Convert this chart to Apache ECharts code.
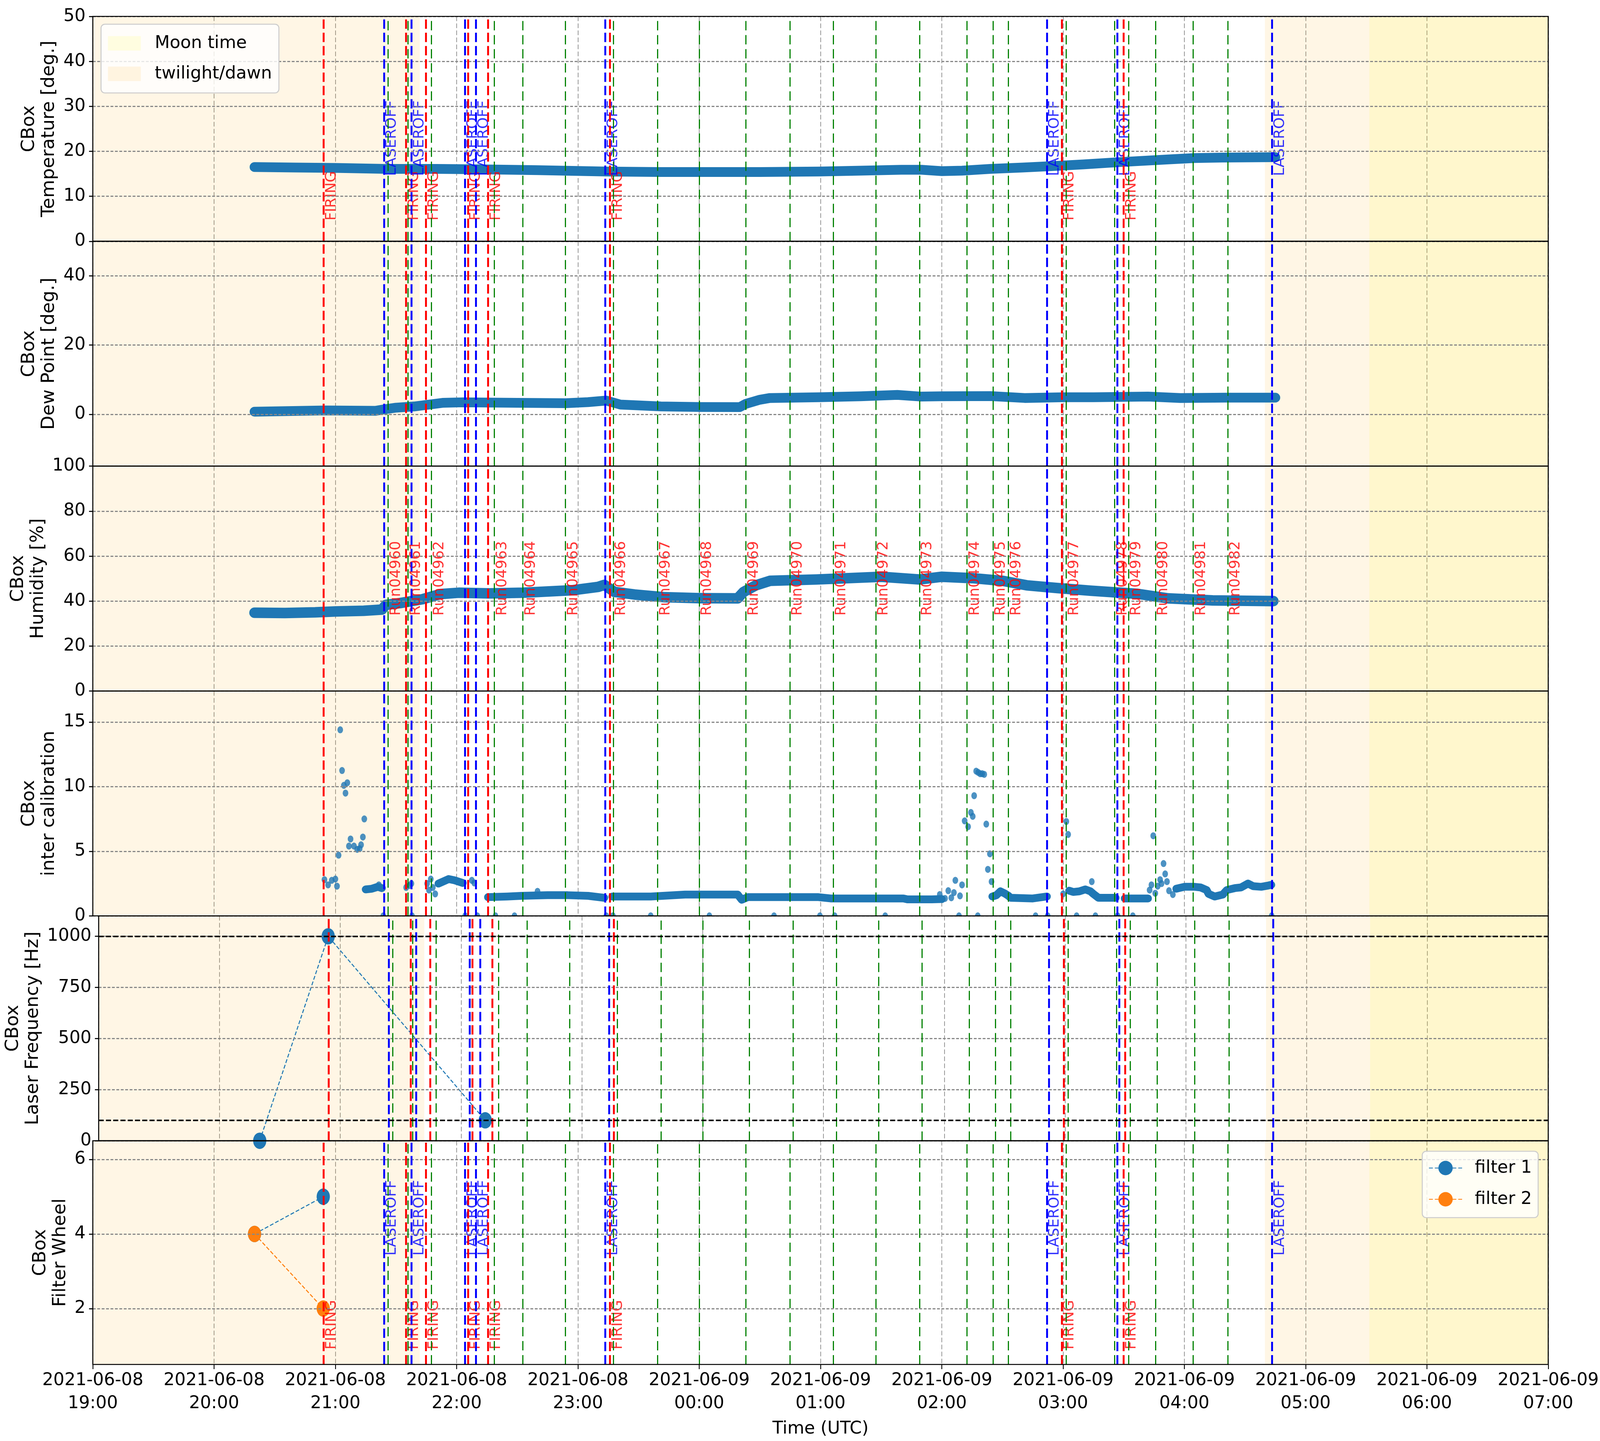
<!DOCTYPE html>
<html><head><meta charset="utf-8">
<script src="https://cdn.jsdelivr.net/npm/echarts@6/dist/echarts.min.js"></script>
<style>html,body{margin:0;padding:0;background:#fff;overflow:hidden}#c{width:100vw;height:100vh}</style>
</head><body><div id="c"></div>
<script>
// ================= DATA =================
const tempTime = ['20:20','20:40','21:00','21:25','21:50','22:10','22:40','23:14','23:40','00:08','00:30','00:59','01:20','01:40','01:50','02:00','02:10','02:24','02:40','02:54','03:10','03:28','03:52','04:05','04:19','04:45'];
const tempVal  = [16.5,16.4,16.3,16.1,16.1,16.0,15.8,15.5,15.4,15.4,15.4,15.5,15.7,15.9,15.9,15.6,15.7,16.1,16.4,16.7,17.1,17.6,18.2,18.5,18.6,18.7];

const dewTime = ['20:20','20:55','21:20','21:24','21:30','21:39','21:53','22:03','22:30','22:54','23:05','23:14','23:21','23:41','00:00','00:20','00:23','00:30','00:35','00:59','01:20','01:38','01:50','02:00','02:24','02:41','03:00','03:15','03:42','03:58','04:20','04:45'];
const dewVal  = [0.75,1.1,1.0,1.4,1.9,2.25,3.3,3.45,3.3,3.2,3.5,3.95,2.8,2.25,2.1,2.05,3.0,4.2,4.7,4.9,5.2,5.6,5.1,5.2,5.25,4.7,4.9,4.9,5.1,4.7,4.8,4.8];

const humTime = ['20:20','20:35','20:50','21:00','21:14','21:23','21:25','21:32','21:43','21:52','22:01','22:16','22:33','22:57','23:10','23:13','23:18','23:28','23:43','00:00','00:19','00:22','00:28','00:35','00:58','01:30','01:49','02:00','02:15','02:30','02:42','02:57','03:14','03:37','03:52','04:14','04:44'];
const humVal  = [34.8,34.7,35.0,35.4,35.7,36.2,38.3,39.1,40.8,43.1,43.7,43.4,43.7,44.8,46.3,47.2,44.1,42.9,41.7,41.3,41.2,44.1,47.0,49.0,49.6,50.8,49.6,50.8,50.2,49.0,47.0,45.8,44.6,43.2,41.2,40.3,40.0];

// inter calibration: continuous stretches (null = gap)
const interLineTime = [
 '21:15','21:18','21:21','21:23', null,
 '21:51','21:56','21:59','22:03', null,
 '22:15:30','22:25','22:32','22:45','22:55','23:05','23:13', null,
 '23:17','23:36','23:53','00:19','00:21','00:24','00:59','01:05','01:41','01:43','01:55','02:00', null,
 '02:25','02:27','02:29','02:31','02:33','02:34','02:45','02:52', null,
 '03:03','03:05','03:08','03:11','03:13:30','03:15','03:17:30','03:26', null,
 '03:30:30','03:42', null,
 '03:56','04:00','04:05','04:08','04:11','04:12','04:15','04:19','04:21','04:25','04:28','04:31:30','04:34','04:38','04:41:30','04:43'];
const interLineVal = [
 2.05,2.1,2.25,2.15,null,
 2.5,2.85,2.75,2.55,null,
 1.45,1.5,1.55,1.6,1.6,1.55,1.4,null,
 1.5,1.5,1.65,1.65,1.25,1.45,1.45,1.35,1.35,1.28,1.28,1.3,null,
 1.5,1.6,1.9,1.75,1.55,1.4,1.35,1.5,null,
 1.95,1.85,1.9,2.05,1.9,1.7,1.4,1.4,null,
 1.35,1.35,null,
 2.1,2.25,2.25,2.2,2.0,1.7,1.5,1.65,2.0,2.15,2.2,2.5,2.3,2.25,2.35,2.4];
// inter calibration: isolated points
const interDotTime = ['20:54:36','20:56:24','20:58:12','21:00','21:00:48','21:01:36','21:02:24','21:03:18','21:04:12','21:05','21:05:54','21:06:42','21:07:30','21:09:12','21:10:48','21:12','21:12:42','21:13:36','21:14:18','21:21:30','21:35','21:36:30','21:37:36','21:45:24','21:46:18','21:47:12','21:48:12','21:49:24','22:07:30','22:08:42','22:40',
 '01:59','02:01:36','02:03:12','02:04:42','02:06','02:06:42','02:09','02:10','02:11:18','02:13','02:14:24','02:15:18','02:16','02:17','02:18','02:19','02:20','02:21','02:22','02:22:48','02:23:48','02:24:36',
 '03:00','03:01:36','03:02:30','03:14:12','03:42:48','03:43:42','03:44:36','03:45:36','03:46:48','03:48','03:48:42','03:49:42','03:50:30','03:51:24','03:52:24','03:54:18'];
const interDotVal = [2.8,2.4,2.75,2.85,2.3,4.7,14.4,11.25,10.1,9.5,10.3,5.4,5.95,5.4,5.15,5.2,5.5,6.1,7.5,2.4,2.2,2.35,2.5,2.5,2.0,2.85,2.2,1.7,2.75,2.55,1.9,
 1.65,1.35,1.95,1.4,1.8,2.75,1.55,2.4,7.35,6.9,8.0,7.7,9.3,11.2,11.1,11.0,11.0,10.95,7.1,3.6,4.8,2.65,
 1.7,7.3,6.3,2.65,2.0,2.4,6.2,1.75,2.3,2.8,2.5,4.05,3.25,2.65,1.95,1.65];
// inter calibration: points at zero
const interZeroTime = ['21:23:42','21:37:54','22:04:12','22:10:12','22:19:12','22:28:36','23:14','23:17:18','23:36','00:05','00:37','00:59:42','01:07','01:32','02:08:30','02:17:48','02:46:24','02:52:24','03:06:42','03:16','03:27','03:34:30','04:43:12'];
const interZeroVal  = [0,0,0,0,0,0,0,0,0,0,0,0,0,0,0,0,0,0,0,0,0,0,0];

const freqTime = ['20:20','20:54','22:12'];
const freqVal  = [0, 1000, 100];
const freqRefLines = [1000, 100];

const filterTime = ['20:20','20:54'];
const filter1Val = [4, 5];
const filter2Val = [4, 2];

const firingTime   = ['20:54:12','21:35','21:44:45','22:05:35','22:15:30','23:15:50','02:59:20','03:29:55'];
const laseroffTime = ['21:24','21:37:40','22:04:10','22:09:35','23:13:30','02:52','03:26:50','04:43:20'];
const runTime = ['21:26:05','21:35:55','21:47:30','22:18:35','22:32:45','22:53:50','23:17:30','23:39:25','00:00:00','00:23:05','00:44:50','01:06:25','01:27:20','01:49:00','02:12:25','02:25:20','02:32:55','03:01:35','03:25:30','03:32:20','03:45:40','04:04:20','04:21:25'];
const runName = ['Run04960','Run04961','Run04962','Run04963','Run04964','Run04965','Run04966','Run04967','Run04968','Run04969','Run04970','Run04971','Run04972','Run04973','Run04974','Run04975','Run04976','Run04977','Run04978','Run04979','Run04980','Run04981','Run04982'];

const twilightFrom = ['19:00','04:39:50'];
const twilightTo   = ['21:41:45','07:00'];
const moonFrom = ['05:31:30'];
const moonTo   = ['07:00'];

const xStart = '19:00', xEnd = '07:00';
const tempTicks = [0,10,20,30,40,50];
const dewTicks = [0,20,40];
const humTicks = [0,20,40,60,80,100];
const interTicks = [0,5,10,15];
const freqTicks = [0,250,500,750,1000];
const filterTicks = [2,4,6];

// ================= HELPERS =================
function t(s){ const p = s.split(':').map(Number); const day = p[0] < 12 ? 9 : 8; return Date.UTC(2021,5,day,p[0],p[1],p[2]||0); }
function pairs(ts, vs){ return ts.map((s,i)=> s===null ? ['-','-'] : [t(s), vs[i]]); }
const pad2 = n => String(n).padStart(2,'0');

// reference layout is 5068x3690 px; map it onto this page's viewport
const SX = (window.innerWidth || 5068) / 5068;
const SY = (window.innerHeight || 3690) / 3690;
const X = v => v*SX, Y = v => v*SY;
const FH = 53*Math.min(1, Math.max(SX, 0.84));   // horizontal text
const FV = 53*Math.min(1, Math.max(SX, 0.885));  // rotated axis names
const FE = 41*Math.min(1, Math.max(SX, 0.915));  // rotated event labels

const FONT = 'DejaVu Sans';
const BLUE = '#1f77b4', ORANGE = '#ff7f0e';
const TWI = 'rgba(255,165,0,0.1)', MOON = 'rgba(255,255,0,0.1)';
const L = 294, R = 164, TOP = 42, PH = 575.83;

const panels = [
 {name:'CBox\nTemperature [deg.]', min:0, max:50, ticks:tempTicks, gap:90},
 {name:'CBox\nDew Point [deg.]', min:-15, max:50, ticks:dewTicks, gap:90},
 {name:'CBox\nHumidity [%]', min:0, max:100, ticks:humTicks, gap:125},
 {name:'CBox\ninter calibration', min:0, max:17.4, ticks:interTicks, gap:90},
 {name:'CBox\nLaser Frequency [Hz]', min:0, max:1100, ticks:freqTicks, gap:162},
 {name:'CBox\nFilter Wheel', min:0.5, max:6.5, ticks:filterTicks, gap:56}
];

const grids = [], xAxes = [], yAxes = [], series = [];
const eventLineData = []
  .concat(runTime.map(s=>({xAxis:t(s), lineStyle:{color:'#008000', type:[Y(24),Y(12)], width:X(3.6)}})))
  .concat(firingTime.map(s=>({xAxis:t(s), lineStyle:{color:'#ff0000', type:[Y(24),Y(10)], width:X(6)}})))
  .concat(laseroffTime.map(s=>({xAxis:t(s), lineStyle:{color:'#0000ff', type:[Y(24),Y(10)], width:X(6)}})));

function labelSeries(i, times, names, y, color){
  return {type:'scatter', xAxisIndex:i, yAxisIndex:i, z:4, symbolSize:1, silent:true, clip:false,
    itemStyle:{color:'rgba(0,0,0,0)'},
    data: times.map((s,k)=>({name:names[k], value:[t(s), y]})),
    label:{show:true, position:'inside', formatter:p=>p.name, rotate:90, align:'left', verticalAlign:'top',
      color:color, fontSize:FE, fontFamily:FONT, offset:[0,X(2)]},
    emphasis:{disabled:true}};
}

panels.forEach((p,i)=>{
  const last = i === panels.length-1;
  grids.push({left:X(L), right:X(R), top:Y(TOP+i*PH), height:Y(PH), show:true, borderColor:'#000', borderWidth:2.6, backgroundColor:'transparent', z:10});
  xAxes.push({type:'value', gridIndex:i, min:t(xStart), max:t(xEnd), interval:3600000,
    axisLine:{show:false},
    axisTick:{show:last, length:Y(12), lineStyle:{color:'#000', width:X(2.7)}},
    axisLabel:{show:last, fontSize:FH, fontFamily:FONT, color:'#000', lineHeight:Y(59), margin:Y(12),
      formatter:v=>{const d=new Date(v); return d.getUTCFullYear()+'-'+pad2(d.getUTCMonth()+1)+'-'+pad2(d.getUTCDate())+'\n'+pad2(d.getUTCHours())+':'+pad2(d.getUTCMinutes());}},
    splitLine:{show:true, lineStyle:{color:'#999', type:[Y(12),Y(6)], width:X(2.5)}},
    name: last ? 'Time (UTC)' : '', nameLocation:'middle', nameGap:Y(135),
    nameTextStyle:{fontSize:FH, fontFamily:FONT, color:'#000', lineHeight:Y(60)}});
  yAxes.push({type:'value', gridIndex:i, min:p.min, max:p.max,
    axisLine:{show:false},
    axisTick:{show:true, length:X(12), lineStyle:{color:'#000', width:Y(2.7)}, customValues:p.ticks},
    axisLabel:{fontSize:FH, fontFamily:FONT, color:'#000', margin:X(23), customValues:p.ticks, formatter:v=>String(v)},
    splitLine:{show:false},
    name:p.name, nameLocation:'middle', nameGap:X(p.gap), nameRotate:90,
    nameTextStyle:{fontSize:FV, fontFamily:FONT, color:'#000', lineHeight:X(63)}});
  series.push({type:'line', xAxisIndex:i, yAxisIndex:i, data:[], z:0, silent:true,
    markLine:{silent:true, symbol:['none','none'], label:{show:false}, emphasis:{disabled:true}, animation:false,
      lineStyle:{color:'#888', type:[X(9),X(5)], width:Y(3)}, data:p.ticks.map(v=>({yAxis:v}))}});
  series.push({type:'line', xAxisIndex:i, yAxisIndex:i, data:[], z:3, silent:true,
    markLine:{silent:true, symbol:['none','none'], label:{show:false}, emphasis:{disabled:true}, animation:false, data:eventLineData}});
  series.push({type:'line', name:'twilight/dawn', xAxisIndex:i, yAxisIndex:i, data:[], z:5, silent:true,
    itemStyle:{color:TWI}, lineStyle:{color:TWI},
    markArea:{silent:true, itemStyle:{color:TWI}, emphasis:{disabled:true},
      data: twilightFrom.map((s,k)=>[{xAxis:t(s)},{xAxis:t(twilightTo[k])}])}});
  series.push({type:'line', name:'Moon time', xAxisIndex:i, yAxisIndex:i, data:[], z:5, silent:true,
    itemStyle:{color:MOON}, lineStyle:{color:MOON},
    markArea:{silent:true, itemStyle:{color:MOON}, emphasis:{disabled:true},
      data: moonFrom.map((s,k)=>[{xAxis:t(s)},{xAxis:t(moonTo[k])}])}});
});

function band(i, ts, vs, w){
  return {type:'line', xAxisIndex:i, yAxisIndex:i, data:pairs(ts,vs), showSymbol:false, z:2, silent:true,
    lineStyle:{color:BLUE, width:Y(w), cap:'round', join:'round'}, itemStyle:{color:BLUE}};
}
const dot = d => [X(d), Y(d)];
series.push(band(0, tempTime, tempVal, 25));
series.push(band(1, dewTime, dewVal, 25));
series.push(band(2, humTime, humVal, 27));
series.push(band(3, interLineTime, interLineVal, 20));
series.push({type:'scatter', xAxisIndex:3, yAxisIndex:3, data:pairs(interDotTime, interDotVal), symbolSize:dot(18), z:2, silent:true, itemStyle:{color:BLUE}});
series.push({type:'scatter', xAxisIndex:3, yAxisIndex:3, data:pairs(interZeroTime, interZeroVal), z:2, silent:true,
  symbol:'path://M0,10 A10,10 0 0 1 20,10 Z', symbolSize:[X(18),Y(9)], symbolOffset:[0,'-50%'], itemStyle:{color:BLUE}});
series.push({type:'line', xAxisIndex:4, yAxisIndex:4, data:pairs(freqTime, freqVal), z:2, silent:true,
  symbol:'circle', symbolSize:dot(42), showAllSymbol:true, itemStyle:{color:BLUE}, lineStyle:{color:BLUE, width:2.6, type:[10,5]},
  markLine:{silent:true, symbol:['none','none'], label:{show:false}, animation:false,
    lineStyle:{color:'#000', type:[X(16),X(7)], width:Y(4)}, data:freqRefLines.map(v=>({yAxis:v}))}});
series.push({type:'line', name:'filter 1', xAxisIndex:5, yAxisIndex:5, data:pairs(filterTime, filter1Val), z:2, silent:true,
  symbol:'circle', symbolSize:dot(42), itemStyle:{color:BLUE}, lineStyle:{color:BLUE, width:2.6, type:[10,5]}});
series.push({type:'line', name:'filter 2', xAxisIndex:5, yAxisIndex:5, data:pairs(filterTime, filter2Val), z:2, silent:true,
  symbol:'circle', symbolSize:dot(42), itemStyle:{color:ORANGE}, lineStyle:{color:ORANGE, width:2.6, type:[10,5]}});

series.push(labelSeries(0, firingTime, firingTime.map(()=> 'FIRING'), 4.6, '#ff0000'));
series.push(labelSeries(0, laseroffTime, laseroffTime.map(()=> 'LASEROFF'), 14.5, '#0000ff'));
series.push(labelSeries(2, runTime, runName, 33.5, '#ff0000'));
series.push(labelSeries(5, firingTime, firingTime.map(()=> 'FIRING'), 0.9, '#ff0000'));
series.push(labelSeries(5, laseroffTime, laseroffTime.map(()=> 'LASEROFF'), 3.42, '#0000ff'));

const legendText = {fontSize:FH, fontFamily:FONT, color:'#000', lineHeight:Y(58)};
const legendCommon = {orient:'vertical', selectedMode:false, z:20,
  backgroundColor:'rgba(255,255,255,0.8)', borderColor:'#cccccc', borderWidth:2.6, borderRadius:10};

const option = {
  animation:false,
  backgroundColor:'#fff',
  grid:grids, xAxis:xAxes, yAxis:yAxes, series:series,
  legend:[
    Object.assign({}, legendCommon, {left:X(320), top:Y(62), padding:[Y(20),X(22),Y(20),X(22)], itemWidth:X(104), itemHeight:Y(37), itemGap:Y(20),
      textStyle:Object.assign({}, legendText, {padding:[0,0,0,X(38)]}),
      data:[{name:'Moon time', icon:'rect', itemStyle:{color:MOON}}, {name:'twilight/dawn', icon:'rect', itemStyle:{color:TWI}}]}),
    Object.assign({}, legendCommon, {left:X(4505), top:Y(2948), padding:[Y(14),X(20),Y(18),X(20)], itemWidth:X(105), itemHeight:Y(46), itemGap:Y(22),
      textStyle:Object.assign({}, legendText, {padding:[0,0,0,X(34)]}),
      data:['filter 1','filter 2']})
  ]
};
const chart = echarts.init(document.getElementById('c'), null, {renderer:'canvas'});
chart.setOption(option);
</script>
</body></html>
